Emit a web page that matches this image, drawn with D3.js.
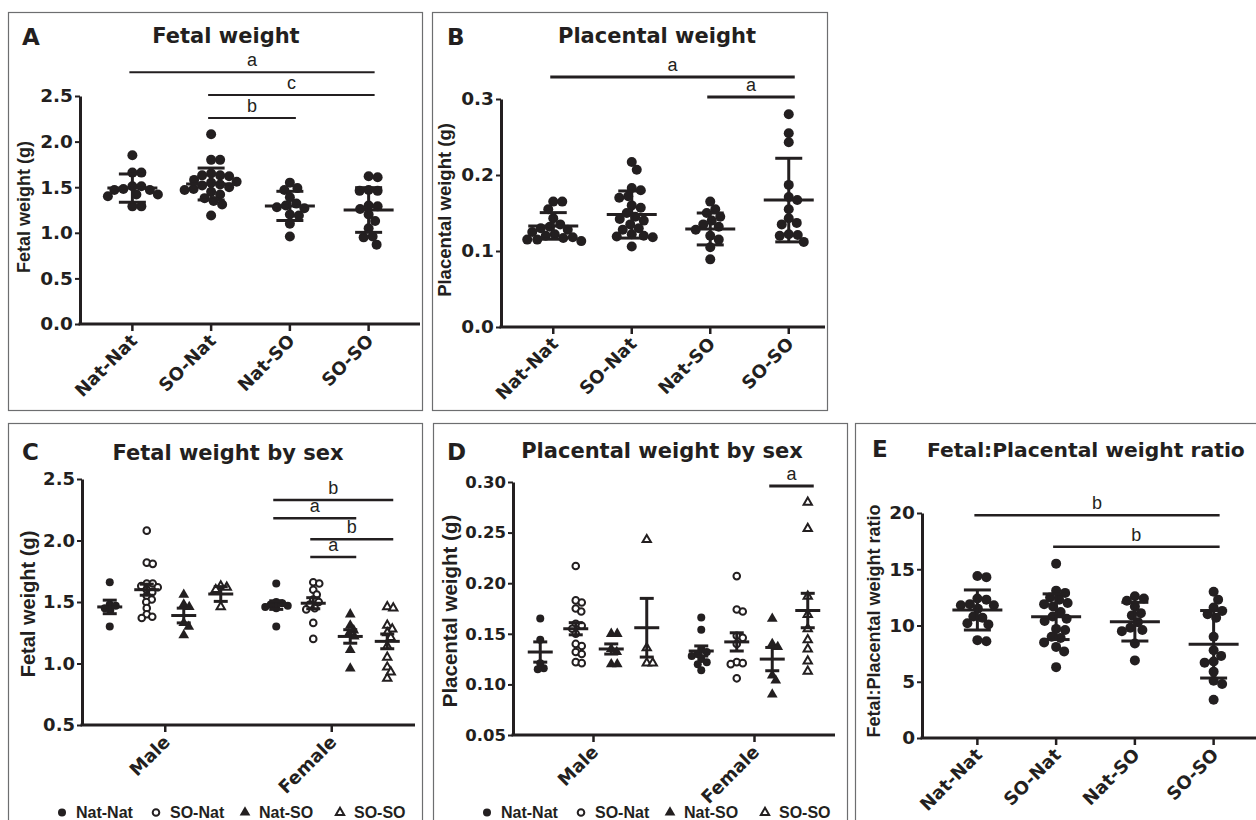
<!DOCTYPE html>
<html>
<head>
<meta charset="utf-8">
<script src="https://cdn.jsdelivr.net/npm/d3@7"></script>
<style>
  body { margin: 0; background: #fff; }
</style>
</head>
<body>
<svg id="chart" width="1256" height="820"></svg>
<script>
const groups = ['Nat-Nat', 'SO-Nat', 'Nat-SO', 'SO-SO']
const sexes = ['Male', 'Female']

// A - fetal weight (g), mean ± SD
const fetalWeight = [
  [1.85, 1.66, 1.66, 1.51, 1.51, 1.48, 1.47, 1.47, 1.42, 1.42, 1.40, 1.29, 1.29],
  [2.08, 1.80, 1.80, 1.65, 1.63, 1.63, 1.62, 1.58, 1.56, 1.55, 1.53, 1.52, 1.50, 1.48, 1.47, 1.45, 1.42, 1.38, 1.35, 1.31, 1.19],
  [1.55, 1.49, 1.47, 1.39, 1.32, 1.30, 1.28, 1.27, 1.20, 1.19, 1.10, 0.96],
  [1.62, 1.61, 1.47, 1.46, 1.46, 1.30, 1.29, 1.26, 1.20, 1.13, 1.05, 0.96, 0.95, 0.87]
]
const fetalMean = [1.49, 1.535, 1.295, 1.25]
const fetalSd = [0.155, 0.175, 0.16, 0.245]

// B - placental weight (g), mean ± SD
const placentalWeight = [
  [0.165, 0.165, 0.155, 0.143, 0.135, 0.132, 0.130, 0.128, 0.125, 0.122, 0.120, 0.118, 0.117, 0.115, 0.115, 0.113],
  [0.217, 0.207, 0.183, 0.180, 0.172, 0.170, 0.160, 0.157, 0.150, 0.145, 0.142, 0.140, 0.135, 0.130, 0.128, 0.122, 0.120, 0.119, 0.118, 0.106],
  [0.165, 0.155, 0.150, 0.145, 0.140, 0.135, 0.132, 0.128, 0.120, 0.115, 0.105, 0.089],
  [0.280, 0.255, 0.243, 0.187, 0.171, 0.167, 0.155, 0.143, 0.137, 0.135, 0.122, 0.121, 0.120, 0.112]
]
const placentalMean = [0.133, 0.148, 0.129, 0.167]
const placentalSd = [0.0175, 0.031, 0.021, 0.055]

// C - fetal weight by sex (g), mean ± SEM
const fetalMale = [
  [1.66, 1.48, 1.47, 1.45, 1.43, 1.30],
  [2.08, 1.82, 1.81, 1.65, 1.65, 1.63, 1.62, 1.60, 1.58, 1.55, 1.52, 1.50, 1.45, 1.40, 1.38, 1.37],
  [1.56, 1.48, 1.46, 1.33, 1.30, 1.23],
  [1.63, 1.62, 1.60, 1.46]
]
const fetalFemale = [
  [1.65, 1.50, 1.49, 1.48, 1.47, 1.46, 1.45, 1.30],
  [1.66, 1.65, 1.60, 1.56, 1.52, 1.50, 1.48, 1.45, 1.44, 1.33, 1.20],
  [1.40, 1.31, 1.27, 1.24, 1.22, 1.11, 0.96],
  [1.46, 1.45, 1.31, 1.28, 1.25, 1.21, 1.14, 1.05, 0.97, 0.93, 0.88]
]
const fetalSexMean = [[1.46, 1.60, 1.39, 1.565], [1.475, 1.49, 1.22, 1.18]]
const fetalSexSem = [[0.055, 0.045, 0.06, 0.06], [0.035, 0.045, 0.055, 0.06]]

// D - placental weight by sex (g), mean ± SEM
const placentalMale = [
  [0.165, 0.144, 0.121, 0.116, 0.115],
  [0.217, 0.183, 0.181, 0.175, 0.172, 0.160, 0.158, 0.155, 0.150, 0.140, 0.138, 0.132, 0.130, 0.122, 0.121],
  [0.150, 0.150, 0.135, 0.132, 0.120, 0.120],
  [0.243, 0.136, 0.121, 0.121]
]
const placentalFemale = [
  [0.166, 0.154, 0.135, 0.132, 0.130, 0.128, 0.125, 0.122, 0.120, 0.114],
  [0.207, 0.174, 0.172, 0.148, 0.146, 0.140, 0.122, 0.121, 0.120, 0.106],
  [0.165, 0.140, 0.137, 0.109, 0.104, 0.090],
  [0.280, 0.254, 0.187, 0.169, 0.155, 0.144, 0.135, 0.123, 0.113]
]
const placentalSexMean = [[0.132, 0.155, 0.135, 0.156], [0.133, 0.142, 0.125, 0.173]]
const placentalSexSem = [[0.010, 0.006, 0.005, 0.029], [0.005, 0.009, 0.0115, 0.017]]

// E - fetal:placental weight ratio, mean ± SD
const ratio = [
  [14.4, 14.3, 12.4, 12.3, 11.9, 11.8, 11.8, 11.5, 10.8, 10.7, 10.2, 10.1, 8.7, 8.6],
  [15.5, 13.1, 12.9, 12.5, 12.3, 12.0, 11.9, 11.7, 11.2, 10.8, 10.6, 10.4, 9.7, 9.6, 9.0, 8.9, 8.5, 8.1, 7.7, 6.3],
  [12.6, 12.4, 12.2, 11.7, 11.1, 10.9, 10.3, 9.8, 9.6, 9.5, 8.4, 6.9],
  [13.0, 12.3, 11.6, 11.3, 11.0, 10.7, 9.0, 7.8, 7.3, 6.8, 6.7, 5.9, 5.1, 4.8, 3.4]
]
const ratioMean = [11.38, 10.78, 10.34, 8.33]
const ratioSd = [1.78, 2.03, 1.72, 3.0]

// significance bars: [from, to, letter, level in axis units]
const sigA = [['Nat-Nat', 'SO-SO', 'a', 2.76], ['SO-Nat', 'SO-SO', 'c', 2.51], ['SO-Nat', 'Nat-SO', 'b', 2.26]]
const sigB = [['Nat-Nat', 'SO-SO', 'a', 0.329], ['Nat-SO', 'SO-SO', 'a', 0.3026]]
const sigC = [['Nat-Nat', 'SO-SO', 'b', 2.33], ['Nat-Nat', 'Nat-SO', 'a', 2.18], ['SO-Nat', 'SO-SO', 'b', 2.01], ['SO-Nat', 'Nat-SO', 'a', 1.866]]
const sigD = [['Nat-SO', 'SO-SO', 'a', 0.296]]
const sigE = [['Nat-Nat', 'SO-SO', 'b', 19.8], ['SO-Nat', 'SO-SO', 'b', 17.0]]

const ink = '#231f20'
const wideFont = '"DejaVu Sans", sans-serif'
const armFont = '"Liberation Sans", Arial, sans-serif'
const svg = d3.select('#chart')

const drawBox = ([x0, y0, x1, y1]) => {
  svg.append('rect')
    .attr('x', x0 + 0.5).attr('y', y0 + 0.5)
    .attr('width', x1 - x0).attr('height', y1 - y0)
    .attr('fill', 'none').attr('stroke', '#6d6e70').attr('stroke-width', 1.2)
}

const addText = (g, txt, x, y, size, opts = {}) => {
  return g.append('text')
    .attr('x', x).attr('y', y)
    .attr('text-anchor', opts.anchor || 'start')
    .attr('fill', ink)
    .style('font-family', opts.font || wideFont)
    .style('font-weight', opts.weight || 'bold')
    .style('font-size', size + 'px')
    .text(txt)
}

const yLabel = (g, txt, x, y, size) => {
  g.append('text')
    .attr('transform', `translate(${x},${y}) rotate(-90)`)
    .attr('text-anchor', 'middle')
    .attr('fill', ink)
    .style('font-family', armFont)
    .style('font-weight', 'bold')
    .style('font-size', size + 'px')
    .text(txt)
}

const drawYAxis = (g, y, x0, ticks, fmt, size) => {
  const ax = g.append('g')
    .attr('transform', `translate(${x0},0)`)
    .call(d3.axisLeft(y).tickValues(ticks).tickFormat(d3.format(fmt)).tickSize(5).tickSizeOuter(0))
  ax.select('.domain').attr('stroke', ink).attr('stroke-width', 3)
  ax.selectAll('.tick line').attr('stroke', ink).attr('stroke-width', 2)
  ax.selectAll('.tick text')
    .attr('x', -7)
    .attr('fill', ink)
    .style('font-family', wideFont)
    .style('font-weight', 'bold')
    .style('font-size', size + 'px')
}

const drawXAxis = (g, x, yPos, xStart, xEnd, size) => {
  g.append('line')
    .attr('x1', xStart - 1.5).attr('x2', xEnd)
    .attr('y1', yPos).attr('y2', yPos)
    .attr('stroke', ink).attr('stroke-width', 3)
  const ax = g.append('g')
    .attr('transform', `translate(0,${yPos})`)
    .call(d3.axisBottom(x).tickSize(7).tickSizeOuter(0))
  ax.select('.domain').remove()
  ax.selectAll('.tick line').attr('stroke', ink).attr('stroke-width', 2.5)
  ax.selectAll('.tick text')
    .attr('x', 0).attr('y', 0).attr('dy', 0)
    .attr('transform', 'translate(6,18) rotate(-45)')
    .attr('text-anchor', 'end')
    .attr('fill', ink)
    .style('font-family', wideFont)
    .style('font-weight', 'bold')
    .style('font-size', size + 'px')
}

// simple deterministic beeswarm: each point takes the nearest free horizontal slot
const swarm = (vals, y, minDist) => {
  const placed = []
  vals.map(v => ({ v, y: y(v), dx: 0 }))
    .sort((a, b) => a.y - b.y)
    .forEach(p => {
      for (let k = 0; k < 400; k++) {
        const off = (k % 2 ? 1 : -1) * Math.ceil(k / 2) * 0.5
        if (placed.every(q => Math.hypot(q.dx - off, q.y - p.y) >= minDist)) { p.dx = off; break }
      }
      placed.push(p)
    })
  return placed
}

const errorBar = (g, cx, y, mean, err, halfMean, halfCap, width) => {
  const lines = [
    [cx - halfMean, y(mean), cx + halfMean, y(mean)],
    [cx, y(mean - err), cx, y(mean + err)],
    [cx - halfCap, y(mean + err), cx + halfCap, y(mean + err)],
    [cx - halfCap, y(mean - err), cx + halfCap, y(mean - err)]
  ]
  g.selectAll(null)
    .data(lines)
    .enter()
    .append('line')
    .attr('x1', d => d[0]).attr('y1', d => d[1])
    .attr('x2', d => d[2]).attr('y2', d => d[3])
    .attr('stroke', ink).attr('stroke-width', width)
}

const sigBars = (g, rows, xOf, y, width) => {
  rows.forEach(([from, to, label, level]) => {
    const x1 = xOf(from) - 3
    const x2 = xOf(to) + 6
    g.append('line')
      .attr('x1', x1).attr('x2', x2)
      .attr('y1', y(level)).attr('y2', y(level))
      .attr('stroke', ink).attr('stroke-width', width)
    addText(g, label, (x1 + x2) / 2, y(level) - 6, 18, { anchor: 'middle', font: armFont, weight: 'normal' })
  })
}

const marker = (g, type, x, y) => {
  if (type === 0) {
    g.append('circle').attr('cx', x).attr('cy', y).attr('r', 4).attr('fill', ink)
  } else if (type === 1) {
    g.append('circle').attr('cx', x).attr('cy', y).attr('r', 3.3)
      .attr('fill', '#fff').attr('stroke', ink).attr('stroke-width', 2)
  } else {
    g.append('path')
      .attr('transform', `translate(${x},${y})`)
      .attr('d', d3.symbol(d3.symbolTriangle, type === 2 ? 50 : 30)())
      .attr('fill', type === 2 ? ink : '#fff')
      .attr('stroke', type === 2 ? 'none' : ink)
      .attr('stroke-width', 2)
  }
}

const scatterPanel = cfg => {
  drawBox(cfg.box)
  const g = svg.append('g')
  const y = d3.scaleLinear().domain(cfg.domain).range(cfg.yRange)
  const x = d3.scaleBand().domain(groups).range(cfg.xRange)
  const cx = d => x(d) + x.bandwidth() / 2

  drawYAxis(g, y, cfg.axisX, cfg.ticks, cfg.fmt, cfg.tickSize)
  drawXAxis(g, x, cfg.yRange[0], cfg.axisX, cfg.axisEnd, 18)

  cfg.values.forEach((vals, i) => {
    g.append('g')
      .selectAll('circle')
      .data(swarm(vals, y, 9))
      .enter()
      .append('circle')
      .attr('cx', p => cx(groups[i]) + p.dx)
      .attr('cy', p => p.y)
      .attr('r', 5)
      .attr('fill', ink)
    errorBar(g, cx(groups[i]), y, cfg.mean[i], cfg.err[i], 25, 13.5, 3)
  })

  sigBars(g, cfg.sig, cx, y, cfg.sigWidth)
  addText(g, cfg.letter, cfg.letterPos[0], cfg.letterPos[1], 23)
  addText(g, cfg.title, cfg.titlePos[0], cfg.titlePos[1], cfg.titleSize || 21, { anchor: cfg.titleAnchor || 'middle' })
  yLabel(g, cfg.yTitle, cfg.yTitlePos[0], cfg.yTitlePos[1], cfg.yTitleSize)
}

const legend = (g, left, baseline) => {
  const offs = [54, 148, 237, 332]
  groups.forEach((grp, i) => {
    marker(g, i, left + offs[i], baseline - 5.5)
    addText(g, grp, left + offs[i] + 14, baseline, 16, { font: armFont })
  })
}

const sexPanel = cfg => {
  drawBox(cfg.box)
  const g = svg.append('g')
  const y = d3.scaleLinear().domain(cfg.domain).range(cfg.yRange)
  const x = d3.scaleBand().domain(sexes).range(cfg.xRange)
  const sub = d3.scaleBand().domain(groups).range([-cfg.subHalf, cfg.subHalf])
  const cx = (s, grp) => x(s) + x.bandwidth() / 2 + sub(grp) + sub.bandwidth() / 2

  drawYAxis(g, y, cfg.axisX, cfg.ticks, cfg.fmt, cfg.tickSize)
  drawXAxis(g, x, cfg.yRange[0], cfg.axisX, cfg.axisEnd, 18)

  sexes.forEach((s, si) => {
    const vals = si === 0 ? cfg.male : cfg.female
    groups.forEach((grp, gi) => {
      swarm(vals[gi], y, 6).forEach(p => marker(g, gi, cx(s, grp) + p.dx, p.y))
      errorBar(g, cx(s, grp), y, cfg.mean[si][gi], cfg.err[si][gi], 12.5, 7, 3)
    })
  })

  sigBars(g, cfg.sig, grp => cx('Female', grp), y, cfg.sigWidth)
  legend(g, cfg.box[0], 818)
  addText(g, cfg.letter, cfg.letterPos[0], cfg.letterPos[1], 23)
  addText(g, cfg.title, cfg.titlePos[0], cfg.titlePos[1], 21, { anchor: 'middle' })
  yLabel(g, cfg.yTitle, cfg.yTitlePos[0], cfg.yTitlePos[1], cfg.yTitleSize)
}

scatterPanel({
  box: [8, 12, 422, 410],
  domain: [0, 2.5], yRange: [324, 96], ticks: [0, 0.5, 1, 1.5, 2, 2.5], fmt: '.1f', tickSize: 18.5,
  axisX: 80, axisEnd: 420, xRange: [93, 408],
  values: fetalWeight, mean: fetalMean, err: fetalSd,
  sig: sigA, sigWidth: 2,
  letter: 'A', letterPos: [22, 45],
  title: 'Fetal weight', titlePos: [226, 43],
  yTitle: 'Fetal weight (g)', yTitlePos: [30, 207], yTitleSize: 18
})

scatterPanel({
  box: [432, 12, 827, 410],
  domain: [0, 0.3], yRange: [327, 99], ticks: [0, 0.1, 0.2, 0.3], fmt: '.1f', tickSize: 18.5,
  axisX: 501, axisEnd: 825, xRange: [514, 828],
  values: placentalWeight, mean: placentalMean, err: placentalSd,
  sig: sigB, sigWidth: 3,
  letter: 'B', letterPos: [447, 45],
  title: 'Placental weight', titlePos: [657, 43],
  yTitle: 'Placental weight (g)', yTitlePos: [451, 210], yTitleSize: 18.5
})

sexPanel({
  box: [8, 423, 422, 830],
  domain: [0.5, 2.5], yRange: [725, 479], ticks: [0.5, 1, 1.5, 2, 2.5], fmt: '.1f', tickSize: 18,
  axisX: 82, axisEnd: 415, xRange: [82, 415], subHalf: 74,
  male: fetalMale, female: fetalFemale, mean: fetalSexMean, err: fetalSexSem,
  sig: sigC, sigWidth: 2.5,
  letter: 'C', letterPos: [22, 460],
  title: 'Fetal weight by sex', titlePos: [228, 460],
  yTitle: 'Fetal weight (g)', yTitlePos: [35, 604], yTitleSize: 20
})

sexPanel({
  box: [433, 423, 847, 830],
  domain: [0.05, 0.30], yRange: [735, 482], ticks: [0.05, 0.10, 0.15, 0.20, 0.25, 0.30], fmt: '.2f', tickSize: 16.5,
  axisX: 513, axisEnd: 835, xRange: [513, 835], subHalf: 71,
  male: placentalMale, female: placentalFemale, mean: placentalSexMean, err: placentalSexSem,
  sig: sigD, sigWidth: 3,
  letter: 'D', letterPos: [447, 460],
  title: 'Placental weight by sex', titlePos: [662, 458],
  yTitle: 'Placental weight (g)', yTitlePos: [457, 611], yTitleSize: 20.5
})

scatterPanel({
  box: [855, 423, 1262, 830],
  domain: [0, 20], yRange: [738, 513], ticks: [0, 5, 10, 15, 20], fmt: 'd', tickSize: 18.5,
  axisX: 922, axisEnd: 1256, xRange: [938, 1253],
  values: ratio, mean: ratioMean, err: ratioSd,
  sig: sigE, sigWidth: 2.5,
  letter: 'E', letterPos: [872, 457],
  title: 'Fetal:Placental weight ratio', titlePos: [927, 457], titleAnchor: 'start', titleSize: 20.3,
  yTitle: 'Fetal:Placental weight ratio', yTitlePos: [880, 621], yTitleSize: 18
})
</script>
</body>
</html>
